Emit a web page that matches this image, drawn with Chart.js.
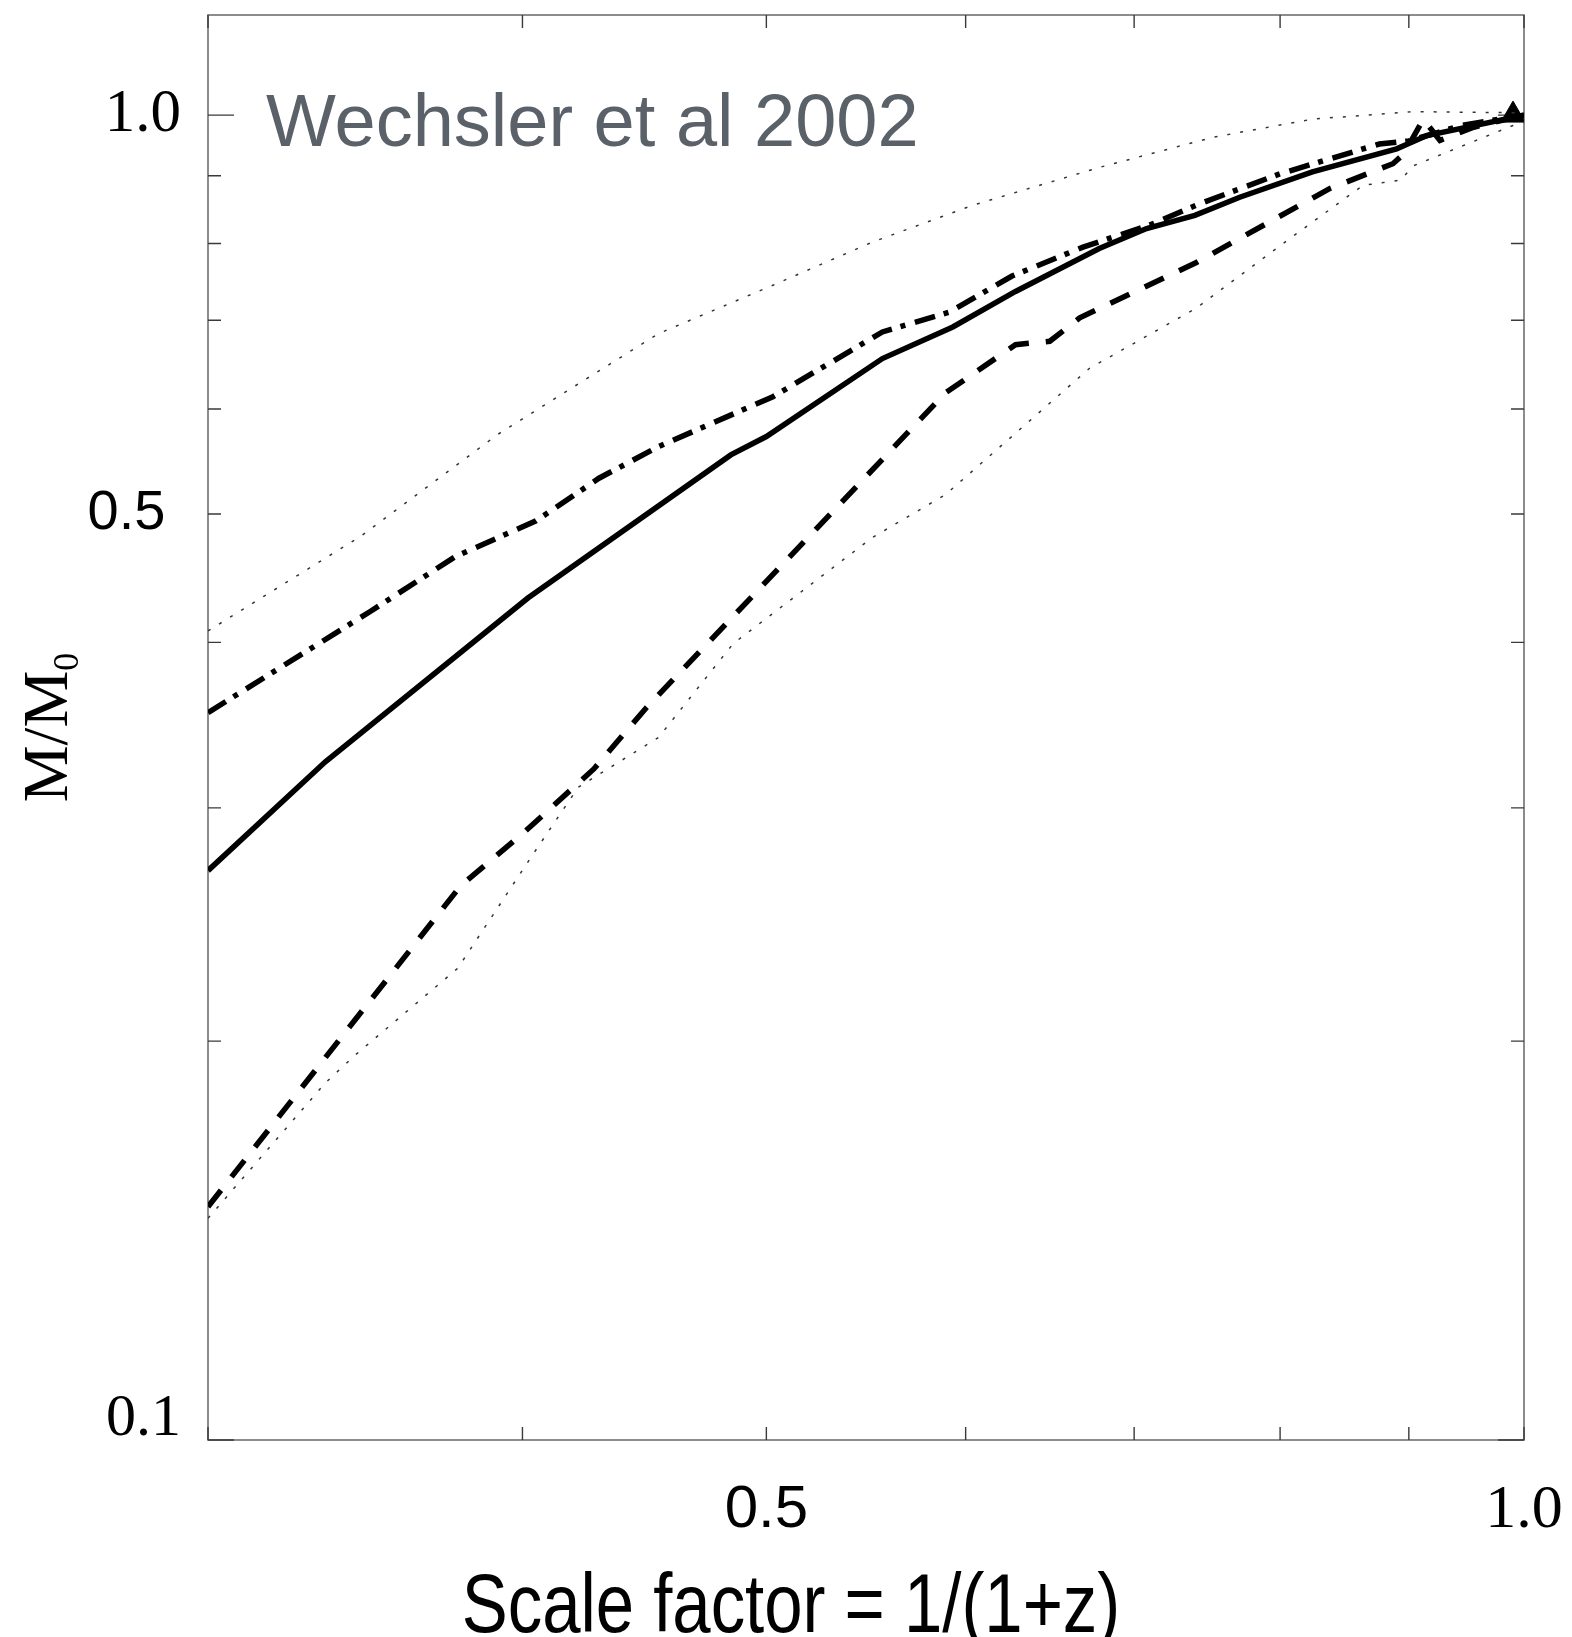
<!DOCTYPE html>
<html>
<head>
<meta charset="utf-8">
<title>Wechsler et al 2002</title>
<script src="https://cdn.jsdelivr.net/npm/chart.js@4.4.1/dist/chart.umd.min.js"></script>
<style>
  html, body { margin: 0; padding: 0; background: #fff; }
  #wrap { width: 1572px; height: 1637px; position: relative; }
</style>
</head>
<body>
<div id="wrap"><canvas id="chart"></canvas></div>
<script>
// scale factor a = 1/(1+z) against M/M0
const solidA = [0.300, 0.334, 0.402, 0.484, 0.500, 0.556, 0.593, 0.628, 0.678, 0.708, 0.740, 0.771, 0.824, 0.890, 0.915, 1.000];
const solidM = [0.269, 0.325, 0.432, 0.554, 0.572, 0.655, 0.692, 0.736, 0.793, 0.821, 0.840, 0.867, 0.906, 0.943, 0.965, 1.000];

const dashDotA = [0.300, 0.348, 0.376, 0.405, 0.429, 0.453, 0.503, 0.556, 0.591, 0.626, 0.668, 0.710, 0.743, 0.800, 0.876, 0.900, 0.944, 1.000];
const dashDotM = [0.354, 0.422, 0.464, 0.494, 0.532, 0.562, 0.613, 0.686, 0.710, 0.756, 0.795, 0.826, 0.857, 0.903, 0.951, 0.956, 0.982, 1.000];

const dashedA = [0.300, 0.378, 0.401, 0.427, 0.448, 0.589, 0.628, 0.648, 0.666, 0.741, 0.837, 0.887, 0.896, 0.912, 0.926, 0.955, 1.000];
const dashedM = [0.150, 0.262, 0.288, 0.321, 0.357, 0.617, 0.671, 0.675, 0.703, 0.774, 0.880, 0.919, 0.935, 0.993, 0.957, 0.979, 1.000];

// thin dotted envelope
const upperA = [0.300, 0.345, 0.391, 0.453, 0.503, 0.551, 0.604, 0.678, 0.752, 0.824, 0.904, 1.000];
const upperM = [0.408, 0.481, 0.574, 0.684, 0.744, 0.802, 0.855, 0.913, 0.962, 0.993, 1.006, 1.004];
const lowerA = [0.300, 0.334, 0.343, 0.377, 0.404, 0.421, 0.453, 0.485, 0.551, 0.589, 0.672, 0.741, 0.800, 0.863, 0.893, 0.904, 0.990, 1.000];
const lowerM = [0.147, 0.186, 0.195, 0.227, 0.277, 0.311, 0.339, 0.399, 0.480, 0.517, 0.644, 0.715, 0.797, 0.885, 0.893, 0.916, 0.982, 0.988];

// marker at the end point
const markerA = [0.99];
const markerM = [1.0];

// axes
const xRange = [0.3, 1.0];
const yRange = [0.1, 1.19];
const xTickMarks = [0.3, 0.4, 0.5, 0.6, 0.7, 0.8, 0.9, 1.0];
const yTickMarks = [0.1, 0.2, 0.3, 0.4, 0.5, 0.6, 0.7, 0.8, 0.9, 1.0];
const yMajorMarks = [0.1, 1.0];
const xLabelTicks = [0.5, 1.0];
const xLabelText = ["0.5", "1.0"];
const yLabelTicks = [0.1, 0.5, 1.0];
const yLabelText = ["0.1", "0.5", "1.0"];

const xTitle = "Scale factor = 1/(1+z)";
const yTitleMain = "M/M";
const yTitleSub = "0";
const note = "Wechsler et al 2002";

const SERIF = "'Liberation Serif', 'Times New Roman', serif";
const SANS = "'Liberation Sans', Arial, Helvetica, sans-serif";

const zip = (xs, ys) => xs.map((x, i) => ({ x: x, y: ys[i] }));

function lineSet(label, a, m, width, dash, color) {
  return {
    label: label,
    data: zip(a, m),
    borderColor: color,
    borderWidth: width,
    borderDash: dash,
    borderCapStyle: "butt",
    pointRadius: 0,
    tension: 0,
    fill: false
  };
}

// the layout should only use our own padding, not label overflow
function noScalePadding(s) {
  s.paddingTop = 0;
  s.paddingBottom = 0;
  s.paddingLeft = 0;
  s.paddingRight = 0;
}

const framePlugin = {
  id: "frame",
  beforeDatasetsDraw(chart) {
    const { ctx, chartArea: a, scales } = chart;
    const x = scales.x, y = scales.y;
    ctx.save();
    ctx.strokeStyle = "#707070";
    ctx.lineWidth = 1.6;
    ctx.strokeRect(a.left, a.top, a.right - a.left, a.bottom - a.top);

    ctx.strokeStyle = "#3a3a3a";
    ctx.lineWidth = 1.4;
    ctx.beginPath();
    yTickMarks.forEach(v => {
      const py = y.getPixelForValue(v);
      const len = yMajorMarks.includes(v) ? 26 : 13;
      ctx.moveTo(a.left, py); ctx.lineTo(a.left + len, py);
      ctx.moveTo(a.right, py); ctx.lineTo(a.right - len, py);
    });
    xTickMarks.forEach(v => {
      const px = x.getPixelForValue(v);
      ctx.moveTo(px, a.bottom); ctx.lineTo(px, a.bottom - 13);
      ctx.moveTo(px, a.top); ctx.lineTo(px, a.top + 13);
    });
    ctx.stroke();
    ctx.restore();
  },
  afterDraw(chart) {
    const { ctx, chartArea: a } = chart;
    ctx.save();

    // annotation
    ctx.fillStyle = "#5b6169";
    ctx.font = "74px " + SANS;
    ctx.textAlign = "left";
    ctx.textBaseline = "alphabetic";
    ctx.fillText(note, 266, 146);

    // x title, condensed like the original
    ctx.fillStyle = "#000";
    ctx.save();
    ctx.translate(791, 1632);
    ctx.scale(0.82, 1);
    ctx.font = "84px " + SANS;
    ctx.textAlign = "center";
    ctx.fillText(xTitle, 0, 0);
    ctx.restore();

    // y title with subscript
    ctx.save();
    const mainFont = "64px " + SERIF, subFont = "36px " + SERIF;
    ctx.font = mainFont;
    const wMain = ctx.measureText(yTitleMain).width;
    ctx.font = subFont;
    const wSub = ctx.measureText(yTitleSub).width;
    const cy = (a.top + a.bottom) / 2;
    ctx.translate(67, cy + (wMain + wSub) / 2);
    ctx.rotate(-Math.PI / 2);
    ctx.textAlign = "left";
    ctx.font = mainFont;
    ctx.fillText(yTitleMain, 0, 0);
    ctx.font = subFont;
    ctx.fillText(yTitleSub, wMain, 11);
    ctx.restore();

    ctx.restore();
  }
};

new Chart(document.getElementById("chart"), {
  type: "line",
  data: {
    datasets: [
      lineSet("upper", upperA, upperM, 1.5, [3, 10], "#333"),
      lineSet("lower", lowerA, lowerM, 1.5, [3, 10], "#333"),
      lineSet("dashed", dashedA, dashedM, 5.5, [21, 17], "#000"),
      lineSet("dash-dot", dashDotA, dashDotM, 5.5, [21, 9, 5, 10], "#000"),
      lineSet("solid", solidA, solidM, 5.5, [], "#000"),
      {
        label: "marker",
        data: zip(markerA, markerM),
        showLine: false,
        pointStyle: "triangle",
        pointRadius: 14,
        pointBackgroundColor: "#000",
        pointBorderColor: "#000",
        clip: 0
      }
    ]
  },
  options: {
    responsive: true,
    maintainAspectRatio: false,
    animation: false,
    devicePixelRatio: 1,
    events: [],
    layout: { padding: { top: 12, right: 48, left: 0, bottom: 0 } },
    plugins: { legend: { display: false }, tooltip: { enabled: false } },
    scales: {
      x: {
        type: "logarithmic",
        min: xRange[0],
        max: xRange[1],
        bounds: "data",
        grid: { display: false },
        border: { display: false },
        afterBuildTicks: s => { s.ticks = xLabelTicks.map(v => ({ value: v })); },
        afterFit: s => { s.height = 197; noScalePadding(s); },
        ticks: {
          autoSkip: false,
          maxRotation: 0,
          padding: 26,
          color: "#000",
          font: c => (c.tick && c.tick.value === 0.5)
            ? { family: SANS, size: 60 }
            : { family: SERIF, size: 62 },
          callback: (v, i) => xLabelText[i]
        }
      },
      y: {
        type: "logarithmic",
        min: yRange[0],
        max: yRange[1],
        bounds: "data",
        grid: { display: false },
        border: { display: false },
        afterBuildTicks: s => { s.ticks = yLabelTicks.map(v => ({ value: v })); },
        afterFit: s => { s.width = 208; noScalePadding(s); },
        ticks: {
          autoSkip: false,
          padding: 19,
          color: "#000",
          font: c => {
            const v = c.tick ? c.tick.value : 1;
            if (v === 0.5) return { family: SANS, size: 56 };
            if (v === 0.1) return { family: SERIF, size: 60, lineHeight: 0.7 };
            return { family: SERIF, size: 61 };
          },
          // 0.1 sits on the axis, the sans 0.5 sits a little further out
          callback: (v, i) => {
            if (yLabelTicks[i] === 0.1) return [yLabelText[i], ""];
            if (yLabelTicks[i] === 0.5) return yLabelText[i] + " ";
            return yLabelText[i];
          }
        }
      }
    }
  },
  plugins: [framePlugin]
});
</script>
</body>
</html>
